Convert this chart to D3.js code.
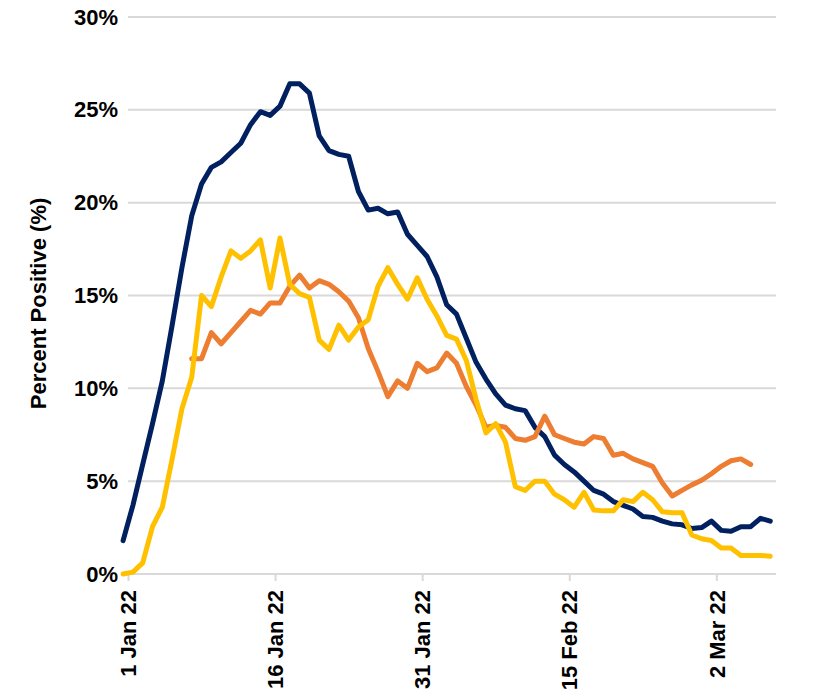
<!DOCTYPE html>
<html>
<head>
<meta charset="utf-8">
<script src="https://cdn.jsdelivr.net/npm/d3@7"></script>
<style>
  html, body { margin: 0; padding: 0; background: #fff; }
  svg { display: block; font-family: "Liberation Sans", Arial, sans-serif; }
</style>
</head>
<body>
<svg id="chart" width="822" height="700"></svg>
<script>
// ---- data ----
const startDate = "2022-01-01";
const tickDates = ["2022-01-01", "2022-01-16", "2022-01-31", "2022-02-15", "2022-03-02"];
const tickLabels = ["1 Jan 22", "16 Jan 22", "31 Jan 22", "15 Feb 22", "2 Mar 22"];
const yTicks = [0, 5, 10, 15, 20, 25, 30];

const seriesNavy = [1.8, 3.7, 5.9, 8.1, 10.4, 13.4, 16.5, 19.3, 21.0, 21.9, 22.2, 22.7, 23.2, 24.2, 24.9, 24.7,
  25.2, 26.4, 26.4, 25.9, 23.6, 22.8, 22.6, 22.5, 20.6, 19.6, 19.7, 19.4, 19.5, 18.3, 17.7, 17.1, 16.0, 14.5,
  14.0, 12.7, 11.4, 10.5, 9.7, 9.1, 8.9, 8.8, 7.9, 7.4, 6.4, 5.9, 5.5, 5.0, 4.5, 4.3, 3.9, 3.7, 3.5, 3.1, 3.05,
  2.85, 2.7, 2.65, 2.45, 2.5, 2.85, 2.35, 2.3, 2.55, 2.55, 3.0, 2.85];

const seriesYellow = [0.0, 0.1, 0.6, 2.55, 3.6, 6.2, 8.9, 10.6, 15.0, 14.4, 16.0, 17.4, 17.0, 17.4, 18.0, 15.4,
  18.1, 15.6, 15.1, 14.9, 12.6, 12.1, 13.4, 12.6, 13.3, 13.7, 15.5, 16.5, 15.6, 14.8, 15.95, 14.8, 13.9, 12.85,
  12.65, 11.5, 9.4, 7.6, 8.1, 7.1, 4.7, 4.5, 5.0, 5.0, 4.3, 4.0, 3.6, 4.4, 3.45, 3.4, 3.4, 4.0, 3.9, 4.4, 4.0,
  3.35, 3.3, 3.3, 2.1, 1.9, 1.8, 1.4, 1.4, 1.0, 1.0, 1.0, 0.95];

const seriesOrange = [null, null, null, null, null, null, null, 11.6, 11.6, 13.0, 12.4, 13.0, 13.6, 14.2, 14.0,
  14.6, 14.6, 15.5, 16.1, 15.4, 15.8, 15.6, 15.2, 14.7, 13.8, 12.15, 10.9, 9.55, 10.4, 10.0, 11.35, 10.9, 11.1,
  11.9, 11.35, 10.1, 9.1, 7.9, 8.0, 7.9, 7.3, 7.2, 7.4, 8.5, 7.5, 7.3, 7.1, 7.0, 7.4, 7.3, 6.4, 6.5, 6.2, 6.0,
  5.8, 4.9, 4.2, 4.5, 4.8, 5.05, 5.4, 5.8, 6.1, 6.2, 5.9, null, null];

const colors = { navy: "#002060", orange: "#ED7D31", yellow: "#FFC000" };

// ---- layout ----
const svg = d3.select("#chart");
const plotLeft = 128, plotRight = 776, plotTop = 17, plotBottom = 574;
const fontSize = 22;

const parse = d3.timeParse("%Y-%m-%d");
const day0 = parse(startDate);
const dates = seriesNavy.map((_, i) => d3.timeDay.offset(day0, i));
// ticks sit at mid-day of each labelled date
const noon = d => d3.timeHour.offset(d, 12);

const x = d3.scaleTime()
  .domain([noon(day0), d3.timeHour.offset(noon(day0), 66 * 24 + 2)])
  .range([plotLeft, plotRight]);
const y = d3.scaleLinear().domain([0, 30]).range([plotBottom, plotTop]);

// gridlines
svg.append("g")
  .selectAll("line")
  .data(yTicks)
  .join("line")
  .attr("x1", plotLeft).attr("x2", plotRight)
  .attr("y1", d => y(d)).attr("y2", d => y(d))
  .attr("stroke", "#d9d9d9").attr("stroke-width", 2);

// y axis labels
const yAxis = d3.axisLeft(y).tickValues(yTicks).tickSize(0).tickPadding(10).tickFormat(d => d + "%");
const gy = svg.append("g").attr("transform", `translate(${plotLeft},0)`).call(yAxis);
gy.select(".domain").remove();
gy.selectAll("text")
  .attr("font-size", fontSize).attr("font-weight", "bold").attr("fill", "#000")
  .attr("font-family", "Liberation Sans, Arial, sans-serif");

// x axis
const tickVals = tickDates.map(s => noon(parse(s)));
const xAxis = d3.axisBottom(x).tickValues(tickVals).tickSize(7).tickPadding(0)
  .tickFormat((d, i) => tickLabels[i]);
const gx = svg.append("g").attr("transform", `translate(0,${plotBottom})`).call(xAxis);
gx.select(".domain").remove();
gx.selectAll(".tick line").attr("stroke", "#d9d9d9").attr("stroke-width", 2);
gx.selectAll("text")
  .attr("font-size", fontSize).attr("font-weight", "bold").attr("fill", "#000")
  .attr("font-family", "Liberation Sans, Arial, sans-serif")
  .attr("text-anchor", "end")
  .attr("transform", "rotate(-90)")
  .attr("x", -16).attr("y", 0).attr("dy", "0.35em");

// y title
svg.append("text")
  .attr("transform", `translate(38,${(plotTop + plotBottom) / 2 + 8}) rotate(-90)`)
  .attr("text-anchor", "middle")
  .attr("dominant-baseline", "central")
  .attr("font-size", fontSize).attr("font-weight", "bold")
  .attr("font-family", "Liberation Sans, Arial, sans-serif")
  .text("Percent Positive (%)");

// lines
const line = d3.line()
  .defined(d => d.v !== null)
  .x(d => x(d.date))
  .y(d => y(d.v));

const seriesList = [
  { values: seriesNavy, color: colors.navy },
  { values: seriesOrange, color: colors.orange },
  { values: seriesYellow, color: colors.yellow }
];

svg.append("g")
  .selectAll("path")
  .data(seriesList)
  .join("path")
  .attr("fill", "none")
  .attr("stroke", s => s.color)
  .attr("stroke-width", 5)
  .attr("stroke-linejoin", "round")
  .attr("stroke-linecap", "round")
  .attr("d", s => line(s.values.map((v, i) => ({ date: dates[i], v }))));
</script>
</body>
</html>
